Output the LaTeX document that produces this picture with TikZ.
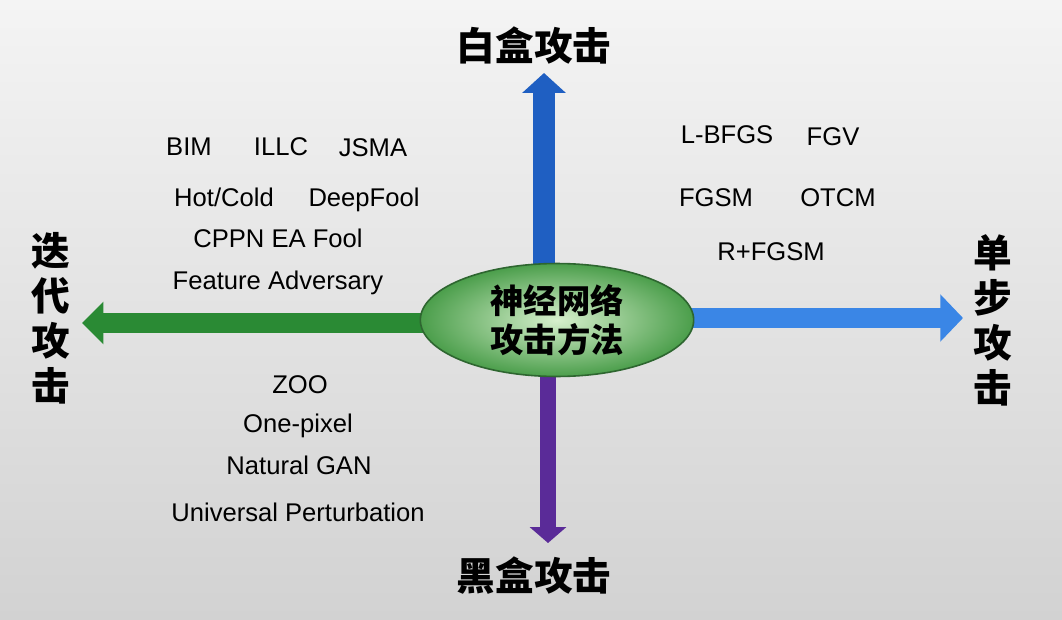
\documentclass[tikz,border=0pt]{standalone}
\usepackage{fontspec}
\setmainfont{Liberation Sans}
\newfontfamily\cjk{Noto Sans CJK SC}
\usetikzlibrary{arrows.meta,shapes.geometric}
\definecolor{upblue}{HTML}{1F5FC2}
\definecolor{rightblue}{HTML}{3A86E6}
\definecolor{leftgreen}{HTML}{2A8A34}
\definecolor{downpurple}{HTML}{5A2B98}
\definecolor{hubedge}{HTML}{2E6630}
\begin{document}
\begin{tikzpicture}[x=0.75pt,y=-0.75pt,
    term/.style={font=\fontsize{19.2}{23}\selectfont, inner sep=0pt, anchor=base},
    axislabel/.style={font=\fontsize{29}{33.75}\selectfont\cjk\bfseries, inner sep=0pt, align=center},
    hubnode/.style={ellipse, draw=hubedge, line width=1.2pt, minimum width=205pt, minimum height=75pt,
        inner color={rgb,255:red,215;green,240;blue,205}, outer color={rgb,255:red,75;green,158;blue,75},
        font=\fontsize{25}{29}\selectfont\cjk\bfseries, align=center}]
    \useasboundingbox (0,0) rectangle (1062,620);
    \shade[top color={rgb,255:red,244;green,244;blue,244}, bottom color={rgb,255:red,210;green,210;blue,210}] (0,0) rectangle (1062,620);

    \coordinate (upS) at (544,320); \coordinate (upE) at (544,73);
    \coordinate (dnS) at (548,320); \coordinate (dnE) at (548,543);
    \coordinate (rtS) at (557,318); \coordinate (rtE) at (963,318);
    \coordinate (ltS) at (557,323); \coordinate (ltE) at (82,323);

    \draw[upblue, line width=16.5pt, -{Triangle[width=32pt,length=15pt]}] (upS) to (upE);
    \draw[downpurple, line width=12.5pt, -{Triangle[width=27pt,length=12pt]}] (dnS) to (dnE);
    \draw[rightblue, line width=15pt, -{Triangle[width=34.5pt,length=17pt]}] (rtS) to (rtE);
    \draw[leftgreen, line width=15.5pt, -{Triangle[width=31pt,length=16pt]}] (ltS) to (ltE);

    \node[hubnode] (hub) at (557,320) {神经网络\\攻击方法};

    \node[axislabel] (white) at (534,45) {白盒攻击};
    \node[axislabel] (black) at (534,576) {黑盒攻击};
    \node[axislabel] (iter) at (51,318) {迭\\代\\攻\\击};
    \node[axislabel] (single) at (993,320) {单\\步\\攻\\击};

    \node[term] (BIM) at (189,156) {BIM};
    \node[term] (ILLC) at (281,156) {ILLC};
    \node[term] (JSMA) at (373,157) {JSMA};
    \node[term] (HotCold) at (224,206) {Hot/Cold};
    \node[term] (DeepFool) at (364,207) {DeepFool};
    \node[term] (CPPN) at (278,247) {CPPN EA Fool};
    \node[term] (FeatAdv) at (278,289) {Feature Adversary};

    \node[term] (LBFGS) at (727,144) {L-BFGS};
    \node[term] (FGV) at (833,146) {FGV};
    \node[term] (FGSM) at (716,206) {FGSM};
    \node[term] (OTCM) at (838,206) {OTCM};
    \node[term] (RFGSM) at (771,260) {R+FGSM};

    \node[term] (ZOO) at (300,393) {ZOO};
    \node[term] (OnePix) at (298,432) {One-pixel};
    \node[term] (NatGAN) at (299,474) {Natural GAN};
    \node[term] (UniPert) at (298,521) {Universal Perturbation};
\end{tikzpicture}
\end{document}
